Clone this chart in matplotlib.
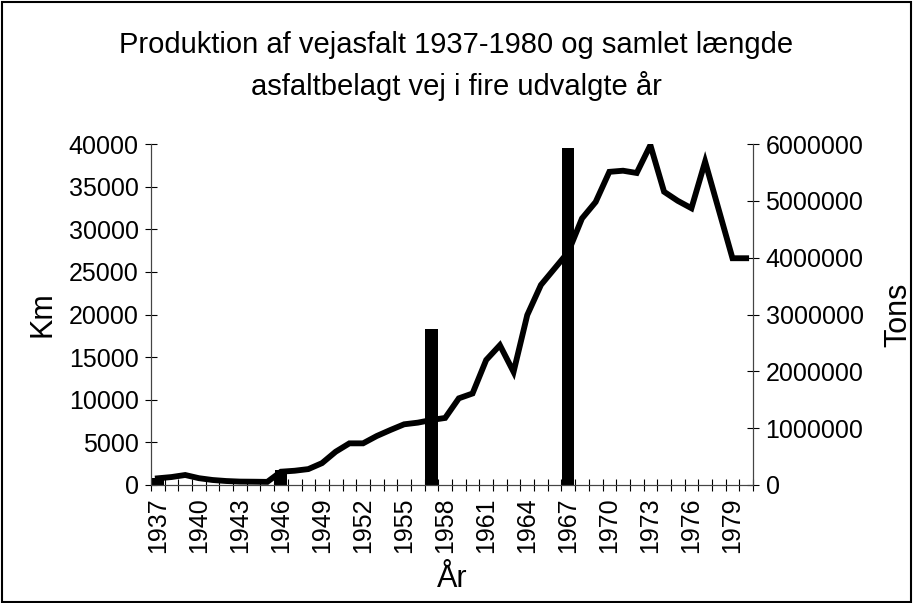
import matplotlib
matplotlib.use("Agg")
import matplotlib.pyplot as plt
from matplotlib.patches import Rectangle
from matplotlib.ticker import MultipleLocator, FixedLocator, StrMethodFormatter

plt.rcParams['font.family'] = ['Liberation Sans', 'DejaVu Sans']

# asphalt production, tons per year
years = list(range(1937, 1981))
tons = [118000, 140000, 176000, 120000, 88000, 70000, 60000, 58000, 55000,
        234000, 251000, 280000, 385000, 586000, 733000, 733000, 862000,
        968000, 1068000, 1097000, 1144000, 1180000, 1525000, 1610000,
        2200000, 2460000, 1990000, 2990000, 3520000, 3810000, 4100000,
        4690000, 4980000, 5510000, 5530000, 5490000, 5980000, 5160000,
        5000000, 4870000, 5690000, 4840000, 3990000, 3990000]

# total length of asphalt road, km, in four selected years
bar_years = [1937, 1946, 1957, 1967]
bar_km = [800, 1760, 18260, 39500]

year_labels = list(range(1937, 1981, 3))

fig = plt.figure(figsize=(9.13, 6.03), dpi=100)
ax = fig.add_axes([151/913, 1 - 485/603, (753-151)/913, (485-144)/603])
ax2 = ax.twinx()

ax.bar(bar_years, bar_km, width=0.9, color='black', zorder=2)
ax2.plot(years, tons, color='black', lw=4.2, solid_joinstyle='miter', zorder=3)

ax.set_xlim(1936.5, 1980.5)
ax.set_ylim(0, 40000)
ax2.set_ylim(0, 6000000)

ax.yaxis.set_major_locator(MultipleLocator(5000))
ax2.yaxis.set_major_locator(MultipleLocator(1000000))
ax2.yaxis.set_major_formatter(StrMethodFormatter('{x:.0f}'))
ax.xaxis.set_major_locator(FixedLocator(year_labels))
ax.xaxis.set_minor_locator(FixedLocator([y - 0.5 for y in years] + [1980.5]))
ax.set_xticklabels([str(y) for y in year_labels], rotation=90)

ax.tick_params(axis='x', which='major', length=0, labelsize=18, pad=9)
ax.tick_params(axis='x', which='minor', direction='inout', length=8, width=0.8)
ax.tick_params(axis='y', direction='inout', length=8, width=0.8, labelsize=18, pad=5)
ax2.tick_params(axis='y', direction='inout', length=8, width=0.8, labelsize=18, pad=5)

for a in (ax, ax2):
    a.spines['top'].set_visible(False)
    for s in ('left', 'right', 'bottom'):
        a.spines[s].set_linewidth(0.8)
        a.spines[s].set_color('#444444')

ax.set_ylabel('Km', fontsize=22, labelpad=8)
ax2.set_ylabel('Tons', fontsize=22, labelpad=14)
ax.set_xlabel('År', fontsize=22, labelpad=8)

fig.text(0.5, 1 - 45/603, 'Produktion af vejasfalt 1937-1980 og samlet længde',
         ha='center', va='center', fontsize=21)
fig.text(0.5, 1 - 86/603, 'asfaltbelagt vej i fire udvalgte år',
         ha='center', va='center', fontsize=21)

fig.patches.append(Rectangle((0.002, 0.002), 0.996, 0.994, transform=fig.transFigure,
                             fill=False, edgecolor='black', lw=1.5))

fig.savefig('out.png', dpi=100)
